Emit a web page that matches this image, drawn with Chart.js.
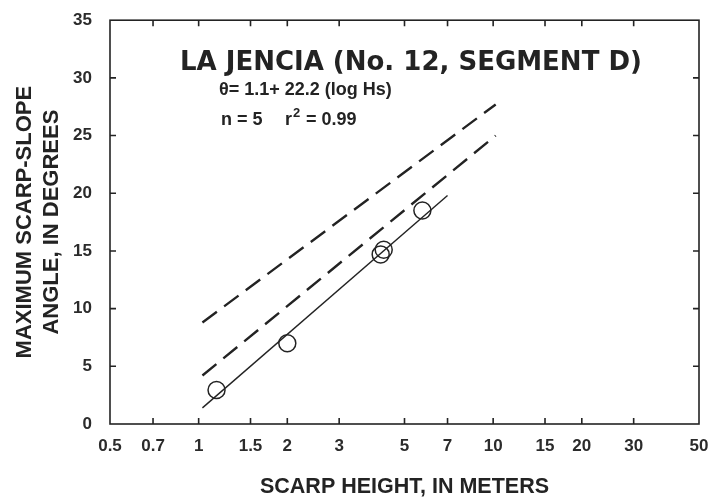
<!DOCTYPE html>
<html>
<head>
<meta charset="utf-8">
<script src="https://cdn.jsdelivr.net/npm/chart.js@4"></script>
<style>
  html, body { margin: 0; padding: 0; background: #fff; }
  canvas { display: block; }
</style>
</head>
<body>
<canvas id="scarpChart" width="716" height="499"></canvas>
<script>
// scarp height (m) vs maximum scarp-slope angle (deg)
const heights = [1.15, 2.0, 4.15, 4.25, 5.75];
const angles = [2.95, 7.0, 14.7, 15.1, 18.5];

// regression line, theta = 1.1 + 22.2 log Hs
const fitX = [1.03, 7.0];
const fitY = [1.4, 19.8];

// dashed reference lines
const lowerX = [1.03, 10.2];
const lowerY = [4.2, 25.0];
const upperX = [1.03, 10.2];
const upperY = [8.8, 27.7];

const xTicks = [0.5, 0.7, 1, 1.5, 2, 3, 5, 7, 10, 15, 20, 30, 50];
const yTicks = [0, 5, 10, 15, 20, 25, 30, 35];

const ink = '#232323';

function pairs(xs, ys) {
    return xs.map((x, i) => ({ x: x, y: ys[i] }));
}

// frame with inward ticks on all four sides
const frameTicks = {
    id: 'frameTicks',
    afterDatasetsDraw(chart) {
        const { ctx, chartArea: a, scales } = chart;
        const x = scales.x, y = scales.y;
        const len = 6;
        ctx.save();
        ctx.strokeStyle = ink;
        ctx.lineWidth = 1.6;
        ctx.strokeRect(a.left, a.top, a.right - a.left, a.bottom - a.top);
        ctx.beginPath();
        for (const v of xTicks.slice(1, -1)) {
            const px = x.getPixelForValue(v);
            ctx.moveTo(px, a.bottom); ctx.lineTo(px, a.bottom - len);
            ctx.moveTo(px, a.top); ctx.lineTo(px, a.top + len);
        }
        for (const v of yTicks.slice(1, -1)) {
            const py = y.getPixelForValue(v);
            ctx.moveTo(a.left, py); ctx.lineTo(a.left + len, py);
            ctx.moveTo(a.right, py); ctx.lineTo(a.right - len, py);
        }
        ctx.stroke();
        ctx.restore();
    }
};

// title and equation inside the plot
const labels = {
    id: 'labels',
    afterDraw(chart) {
        const { ctx, chartArea: a } = chart;
        ctx.save();
        ctx.fillStyle = ink;
        ctx.textBaseline = 'alphabetic';
        ctx.font = 'bold 26px "DejaVu Sans"';
        ctx.fillText('LA JENCIA (No. 12, SEGMENT D)', a.left + 70, a.top + 50);
        ctx.font = 'bold 18px "Liberation Sans"';
        ctx.fillText('\u03B8= 1.1+ 22.2 (log Hs)', a.left + 109, a.top + 75);
        ctx.fillText('n = 5', a.left + 111, a.top + 105);
        ctx.fillText('r', a.left + 175, a.top + 105);
        ctx.fillText('= 0.99', a.left + 196, a.top + 105);
        ctx.font = 'bold 13px "Liberation Sans"';
        ctx.fillText('2', a.left + 183, a.top + 97);
        ctx.restore();
    }
};

const tickFont = { family: '"Liberation Sans"', size: 17, weight: 'bold' };

new Chart(document.getElementById('scarpChart'), {
    type: 'scatter',
    data: {
        datasets: [
            {
                data: pairs(heights, angles),
                pointStyle: 'circle',
                pointRadius: 8.5,
                borderColor: ink,
                borderWidth: 1.5,
                backgroundColor: 'rgba(0,0,0,0)'
            },
            {
                type: 'line',
                data: pairs(fitX, fitY),
                borderColor: ink,
                borderWidth: 1.4,
                pointRadius: 0
            },
            {
                type: 'line',
                data: pairs(lowerX, lowerY),
                borderColor: ink,
                borderWidth: 2.4,
                borderDash: [18, 9],
                pointRadius: 0
            },
            {
                type: 'line',
                data: pairs(upperX, upperY),
                borderColor: ink,
                borderWidth: 2.4,
                borderDash: [18, 9],
                pointRadius: 0
            }
        ]
    },
    options: {
        responsive: false,
        animation: false,
        layout: { padding: { top: 7, right: 17, left: 0, bottom: 0 } },
        plugins: { legend: { display: false }, tooltip: { enabled: false } },
        scales: {
            x: {
                type: 'logarithmic',
                min: 0.5,
                max: 50,
                grid: { display: false },
                border: { display: false },
                afterBuildTicks: s => { s.ticks = xTicks.map(v => ({ value: v })); },
                afterFit: s => { s.height = 75; },
                ticks: {
                    autoSkip: false,
                    maxRotation: 0,
                    padding: 4,
                    color: '#2b2b2b',
                    font: tickFont,
                    callback: v => String(v)
                },
                title: {
                    display: true,
                    text: 'SCARP HEIGHT, IN METERS',
                    color: ink,
                    font: { family: '"Liberation Sans"', size: 21.5, weight: 'bold', lineHeight: 1 },
                    padding: { top: 0, bottom: 1 }
                }
            },
            y: {
                min: 0,
                max: 35,
                grid: { display: false },
                border: { display: false },
                afterBuildTicks: s => { s.ticks = yTicks.map(v => ({ value: v })); },
                afterFit: s => { s.width = 110; },
                ticks: {
                    padding: 10,
                    color: '#2b2b2b',
                    font: tickFont
                },
                title: {
                    display: true,
                    text: ['MAXIMUM SCARP-SLOPE', 'ANGLE, IN DEGREES'],
                    color: ink,
                    font: { family: '"Liberation Sans"', size: 22, weight: 'bold' },
                    padding: { top: 12, bottom: 0 }
                }
            }
        }
    },
    plugins: [frameTicks, labels]
});
</script>
</body>
</html>
